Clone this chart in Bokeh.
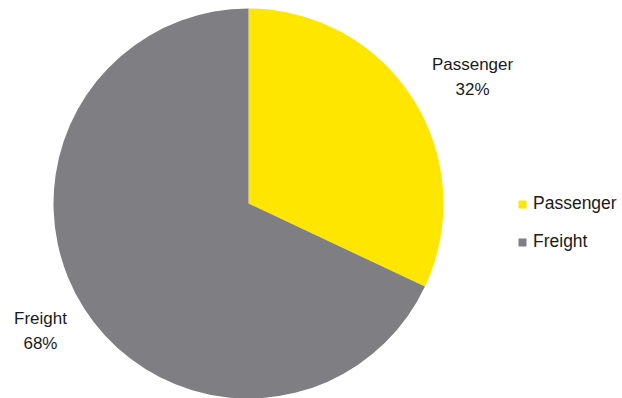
import math
from bokeh.plotting import figure
from bokeh.models import ColumnDataSource, Legend, LegendItem
from bokeh.core.properties import value
from bokeh.embed import file_html
from bokeh.resources import INLINE

# ---- data ----
categories = ["Passenger", "Freight"]
values = [32, 68]
pct_labels = ["32%", "68%"]
colors = ["#FFE600", "#7F7F83"]

# ---- layout (pixels) ----
W, H = 622, 398
cx, cy_top = 248, 203          # pie centre, canvas coords from top
R = 195
cy = H - cy_top

total = sum(values)
starts, ends, mids = [], [], []
a = math.pi / 2
for v in values:
    sweep = 2 * math.pi * v / total
    starts.append(a)
    ends.append(a - sweep)
    mids.append(a - sweep / 2)
    a -= sweep

label_r = 1.3 * R
lx = [cx + label_r * math.cos(m) for m in mids]
ly = [cy + label_r * math.sin(m) for m in mids]
lx_off = [10, 6]
ly_off = [9, -8]

src = ColumnDataSource(dict(cat=categories, val=values, start=starts, end=ends,
                            color=colors, lx=lx, ly=ly,
                            txt=[f"{c}\n{p}" for c, p in zip(categories, pct_labels)],
                            xo=lx_off, yo=ly_off))

p = figure(width=W, height=H, x_range=(0, W), y_range=(0, H),
           output_backend="svg", toolbar_location=None, min_border=0)
p.axis.visible = False
p.grid.visible = False
p.outline_line_color = None
p.background_fill_color = "white"

renderers = []
for i in range(len(categories)):
    r = p.wedge(x=cx, y=cy, radius=R, start_angle=starts[i], end_angle=ends[i],
                direction="clock", fill_color=colors[i], line_color=None)
    renderers.append(r)

p.text(x="lx", y="ly", text="txt", source=src, x_offset="xo", y_offset="yo",
       text_align="center", text_baseline="middle", text_font=value("Liberation Sans"),
       text_font_size="17px", text_color="#1a1a1a", text_line_height=1.33)

legend = Legend(items=[LegendItem(label=c, renderers=[r]) for c, r in zip(categories, renderers)],
                location=(517, 146), glyph_width=10, glyph_height=10, spacing=17,
                padding=0, margin=0, label_standoff=6, border_line_color=None,
                background_fill_alpha=0, label_text_font="Liberation Sans",
                label_text_font_size="17.5px", label_text_color="#1a1a1a")
p.add_layout(legend)

open("out.html", "w").write(file_html(p, INLINE))
